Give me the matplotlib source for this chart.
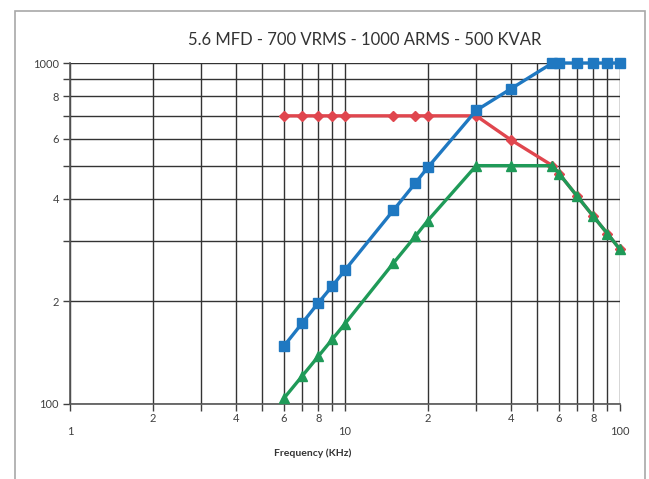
import matplotlib
matplotlib.use("Agg")
import matplotlib.pyplot as plt
from matplotlib.ticker import FixedLocator, FuncFormatter
from matplotlib.patches import Rectangle

# Data (frequency in kHz)
freq = [6, 7, 8, 9, 10, 15, 18, 20, 30, 40, 56.8, 60, 70, 80, 90, 100]
current_a = [148, 173, 198, 222, 247, 370, 444, 494, 726, 839, 1000, 1000, 1000, 1000, 1000, 1000]
voltage_v = [700, 700, 700, 700, 700, 700, 700, 700, 700, 596, 500, 474, 406, 355, 316, 284]
power_kvar = [104, 121, 138, 155, 172, 259, 310, 345, 500, 500, 500, 474, 406, 355, 316, 284]

title = "5.6 MFD - 700 VRMS - 1000 ARMS - 500 KVAR"
xlabel = "Frequency (KHz)"

plt.rcParams['font.family'] = ['Lato', 'DejaVu Sans']

fig = plt.figure(figsize=(6.49, 4.79), dpi=100)
fig.patch.set_facecolor('white')

# outer chart frame
fig.patches.append(Rectangle((15/649, -0.05), 630/649, 1.05 - 11/479, transform=fig.transFigure,
                             fill=False, edgecolor='#a8a8a8', linewidth=1.2))

ax = fig.add_axes([70/649, 1 - 404/479, 550/649, (404 - 63)/479])
ax.set_xscale('log')
ax.set_yscale('log')
ax.set_xlim(1, 100)
ax.set_ylim(100, 1000)

ax.plot(freq, voltage_v, color='#e0464e', lw=2.4, marker='D', ms=5, zorder=3, clip_on=False)
ax.plot(freq, power_kvar, color='#1f9a58', lw=2.4, marker='^', ms=7, zorder=4, clip_on=False)
ax.plot(freq, current_a, color='#1f78c1', lw=2.4, marker='s', ms=7.5, zorder=5, clip_on=False)

# x ticks
ax.xaxis.set_major_locator(FixedLocator([1, 10, 100]))
ax.xaxis.set_major_formatter(FuncFormatter(lambda v, p: f"{int(round(v))}"))
xminor = [v * d for d in (1, 10) for v in range(2, 10)]
ax.xaxis.set_minor_locator(FixedLocator(xminor))

def xminor_fmt(v, p):
    lead = int(round(v / (10 if v >= 10 else 1)))
    return str(lead) if lead in (2, 4, 6, 8) else ""
ax.xaxis.set_minor_formatter(FuncFormatter(xminor_fmt))

# y ticks
ax.yaxis.set_major_locator(FixedLocator([100, 1000]))
ax.yaxis.set_major_formatter(FuncFormatter(lambda v, p: f"{int(round(v))}"))
ax.yaxis.set_minor_locator(FixedLocator(list(range(200, 1000, 100))))

def yminor_fmt(v, p):
    lead = int(round(v / 100))
    return str(lead) if lead in (2, 4, 6, 8) else ""
ax.yaxis.set_minor_formatter(FuncFormatter(yminor_fmt))

ax.tick_params(axis='x', which='major', length=5, pad=11, labelsize=8, colors='#404040', width=1)
ax.tick_params(axis='x', which='minor', length=5, pad=1.5, labelsize=8, colors='#404040', width=1)
ax.tick_params(axis='y', which='both', length=5, pad=3, labelsize=8, colors='#404040', width=1)

ax.grid(True, which='both', color='#333333', linewidth=1.0)
ax.set_axisbelow(True)
for s in ('top', 'right'):
    ax.spines[s].set_visible(False)
for s in ('left', 'bottom'):
    ax.spines[s].set_color('#555555')
    ax.spines[s].set_linewidth(1.2)

fig.text(365/649, 1 - 40/479, title, ha='center', va='center', fontsize=12, color='#333333')
fig.text(313/649, 1 - 453/479, xlabel, ha='center', va='center', fontsize=7.5,
         fontweight='bold', color='#333333')

fig.savefig('out.png', dpi=100, facecolor='white')
